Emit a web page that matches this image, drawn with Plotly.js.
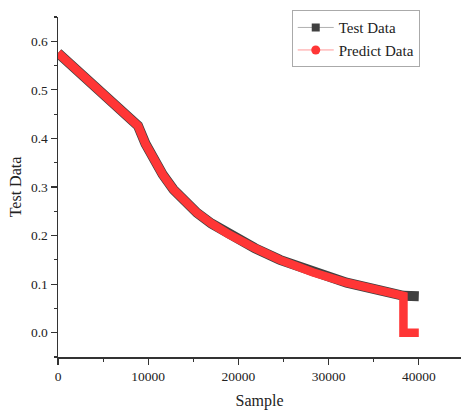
<!DOCTYPE html>
<html>
<head>
<meta charset="utf-8">
<script src="https://cdn.plot.ly/plotly-3.0.1.min.js"></script>
<style>html,body{margin:0;padding:0;background:#fff;}#chart{width:461px;height:412px;}</style>
</head>
<body>
<div id="chart"></div>
<script>
// Sample positions and values
const testX = [0, 4660, 8870, 9700, 10500, 11600, 12800, 14150, 15400, 17000, 18880, 21840, 24610, 28300, 32000, 35700, 38300, 40000];
const testY = [0.576, 0.500, 0.426, 0.389, 0.360, 0.326, 0.295, 0.268, 0.247, 0.225, 0.203, 0.174, 0.150, 0.124, 0.103, 0.087, 0.076, 0.075];
const predX = [0, 4660, 8870, 9700, 10500, 11600, 12800, 14150, 15400, 17000, 18880, 21840, 24610, 28300, 32000, 35700, 38300, 38300, 40000];
const predY = [0.576, 0.500, 0.426, 0.389, 0.360, 0.326, 0.295, 0.268, 0.247, 0.225, 0.203, 0.174, 0.150, 0.124, 0.103, 0.087, 0.076, 0.000, 0.000];
const seriesNames = ["Test Data", "Predict Data"];
const yTicks = [0.0, 0.1, 0.2, 0.3, 0.4, 0.5, 0.6];
const xTicks = [0, 10000, 20000, 30000, 40000];

const serif = "Liberation Serif, Times New Roman, serif";
const gray = "#404040", red = "#ff3636";

const traces = [
  {x: testX, y: testY, mode: "lines", line: {color: gray, width: 10}, showlegend: false, hoverinfo: "skip"},
  {x: predX, y: predY, mode: "lines", line: {color: red, width: 8.5}, showlegend: false, hoverinfo: "skip"},
  {x: [null], y: [null], name: seriesNames[0], mode: "lines+markers",
   line: {color: "#b0b0b0", width: 1}, marker: {symbol: "square", size: 8, color: gray}},
  {x: [null], y: [null], name: seriesNames[1], mode: "lines+markers",
   line: {color: "#ff9a9a", width: 1}, marker: {symbol: "circle", size: 9, color: red}}
];

const axisCommon = {
  showline: true, linecolor: "#333", linewidth: 1.5, mirror: false,
  showgrid: false, zeroline: false,
  ticks: "outside", ticklen: 6, tickwidth: 1.2, tickcolor: "#333",
  tickfont: {family: serif, size: 13.5, color: "#222"}
};

const layout = {
  width: 461, height: 412,
  margin: {l: 58, r: 0, t: 17, b: 55},
  paper_bgcolor: "#fff", plot_bgcolor: "#fff",
  font: {family: serif, color: "#222"},
  xaxis: Object.assign({}, axisCommon, {
    range: [0, 44680], tickmode: "array", tickvals: xTicks, ticktext: xTicks.map(String),
    minor: {dtick: 5000, tick0: 0, ticks: "outside", ticklen: 3, tickwidth: 1.2, tickcolor: "#333"},
    title: {text: "Sample", font: {family: serif, size: 16, color: "#222"}, standoff: 12}
  }),
  yaxis: Object.assign({}, axisCommon, {
    range: [-0.05, 0.65], tickmode: "array", tickvals: yTicks, ticktext: yTicks.map(v => v.toFixed(1)),
    minor: {dtick: 0.05, tick0: 0, ticks: "outside", ticklen: 3, tickwidth: 1.2, tickcolor: "#333"},
    title: {text: "Test Data", font: {family: serif, size: 16, color: "#222"}, standoff: 5}
  }),
  legend: {
    x: 0.58, y: 1.02, xanchor: "left", yanchor: "top",
    bgcolor: "#fff", bordercolor: "#aaa", borderwidth: 1,
    font: {family: serif, size: 15, color: "#222"},
    itemwidth: 36, tracegroupgap: 0
  }
};

Plotly.newPlot("chart", traces, layout, {staticPlot: true, displayModeBar: false});
</script>
</body>
</html>
